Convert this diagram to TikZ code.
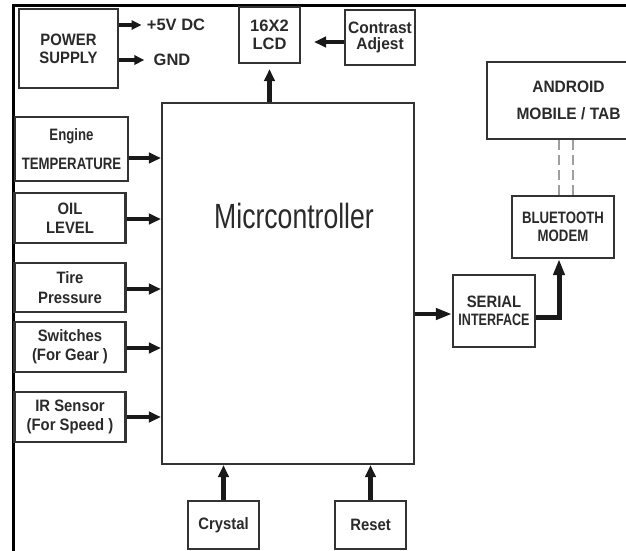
\documentclass[tikz,border=0pt]{standalone}
\usepackage{fontspec}
\setmainfont{Liberation Sans}[FakeStretch=0.9]
\newfontfamily\fullfont{Liberation Sans}[FakeStretch=1.0]
\newfontfamily\semifont{Liberation Sans}[FakeStretch=0.94]
\newfontfamily\condfont{Liberation Sans}[FakeStretch=0.8]
\newfontfamily\narrowfont{Liberation Sans}[FakeStretch=0.76]
\usetikzlibrary{arrows.meta}
\definecolor{ink}{HTML}{2A2A2A}
\definecolor{edge}{HTML}{333333}
\begin{document}
\begin{tikzpicture}[x=1pt,y=-1pt,
  box/.style={draw=edge, line width=2.2pt, fill=white, text=ink,
    font=\bfseries\fontsize{16.5}{18}\selectfont, align=center, inner sep=0pt},
  arr/.style={draw=black!90, line width=4pt, line join=miter,
    -{Triangle[length=12pt,width=10.5pt]}},
  longarr/.style={draw=black!90, line width=4.5pt, line join=miter,
    -{Triangle[length=16pt,width=11pt]}},
  thinarr/.style={draw=black!90, line width=3.5pt, -{Triangle[length=10pt,width=9pt]}},
  lbl/.style={text=ink, font=\fullfont\bfseries\fontsize{16.5}{18}\selectfont, inner sep=0pt},
  frameline/.style={draw=black, line width=3pt},
  link/.style={draw=gray!75, line width=1.6pt, dash pattern=on 10pt off 5pt}
]
\clip (0,0) rectangle (626,550);
\fill[white] (0,0) rectangle (626,550);
\draw[frameline] (13,555) -- (13,5) -- (630,5);

% boxes
\node[box, minimum width=99pt, minimum height=79pt] (psu) at (68.5,48.5) {POWER\\SUPPLY};
\node[box, minimum width=61pt, minimum height=56pt, font=\fullfont\bfseries\fontsize{16.5}{18.5}\selectfont] (lcd) at (269.5,35) {16X2\\LCD};
\node[box, minimum width=70pt, minimum height=55pt, font=\semifont\bfseries\fontsize{16.5}{16.5}\selectfont] (contrast) at (380,37.5) {Contrast\\Adjest};
\node[box, minimum width=252pt, minimum height=361pt] (micro) at (288,283.5) {};
\node[text=ink, inner sep=0pt, font=\narrowfont\fontsize{35}{38}\selectfont] (mtext) at (294,216) {Micrcontroller};

\node[box, minimum width=113pt, minimum height=64pt, font=\condfont\bfseries\fontsize{16.5}{29}\selectfont] (engine) at (71.5,149) {Engine\\TEMPERATURE};
\node[box, minimum width=111pt, minimum height=50pt, font=\bfseries\fontsize{16.5}{19}\selectfont] (oil) at (70,218) {OIL\\LEVEL};
\node[box, minimum width=111pt, minimum height=49pt, font=\bfseries\fontsize{16.5}{20}\selectfont] (tire) at (70,287.5) {Tire\\Pressure};
\node[box, minimum width=111pt, minimum height=50pt, font=\bfseries\fontsize{16.5}{19}\selectfont] (switch) at (70,347) {Switches\\(For Gear )};
\node[box, minimum width=111pt, minimum height=50pt, font=\bfseries\fontsize{16.5}{19}\selectfont] (ir) at (70,417) {IR Sensor\\(For Speed )};

\node[box, minimum width=71pt, minimum height=48pt] (crystal) at (223.5,525) {Crystal};
\node[box, minimum width=71pt, minimum height=48pt] (reset) at (370.5,525) {Reset};

\node[box, minimum width=163pt, minimum height=77pt, font=\semifont\bfseries\fontsize{16.5}{27}\selectfont] (android) at (568.5,100.5) {ANDROID\\MOBILE / TAB};
\node[box, minimum width=102pt, minimum height=62pt, font=\condfont\bfseries\fontsize{16.5}{17.5}\selectfont] (bt) at (563,227) {BLUETOOTH\\MODEM};
\node[box, minimum width=82pt, minimum height=72pt] (serial) at (494,311) {SERIAL\\{\narrowfont INTERFACE}};

% power labels
\node[lbl] (v5) at (176,25) {+5V DC};
\node[lbl] (gnd) at (172,60) {GND};
\draw[thinarr, shorten >=5pt] (psu.east |- v5) -- (v5.west);
\draw[thinarr, shorten >=9pt] (psu.east |- gnd) -- (gnd.west);

% LCD connections
\path ([yshift=-4.5pt]contrast.west) coordinate (ca);
\draw[arr, shorten >=13pt] (ca) -- (ca -| lcd.east);
\draw[arr, line width=4.5pt, shorten >=5pt] (lcd.south |- micro.north) -- (lcd.south);

% inputs
\path ([yshift=-9pt]engine.east) coordinate (ea);
\draw[arr] (ea) -- (ea -| micro.west);
\path ([yshift=-1pt]oil.east) coordinate (oa);
\draw[arr] (oa) -- (oa -| micro.west);
\path ([yshift=-1.5pt]tire.east) coordinate (ta);
\draw[arr] (ta) -- (ta -| micro.west);
\path ([yshift=-1pt]switch.east) coordinate (wa);
\draw[arr] (wa) -- (wa -| micro.west);
\draw[arr] (ir.east) -- (ir.east -| micro.west);

% bottom
\draw[arr, line width=4.5pt] (crystal.north) -- (crystal.north |- micro.south);
\draw[arr, line width=4.5pt] (reset.north) -- (reset.north |- micro.south);

% serial / bluetooth
\path ([yshift=-3pt]serial.west) coordinate (sa);
\draw[longarr] (sa -| micro.east) -- (sa);
\path ([yshift=-6pt]serial.east) coordinate (sb);
\path ([xshift=-4pt]bt.south) coordinate (bb);
\draw[longarr, line width=5pt] (sb) -| (bb);

% wireless link
\path ([xshift=-4pt]bt.north) coordinate (d1);
\path ([xshift=10pt]bt.north) coordinate (d2);
\draw[link] (d1) -- (d1 |- android.south);
\draw[link] (d2) -- (d2 |- android.south);
\end{tikzpicture}
\end{document}
